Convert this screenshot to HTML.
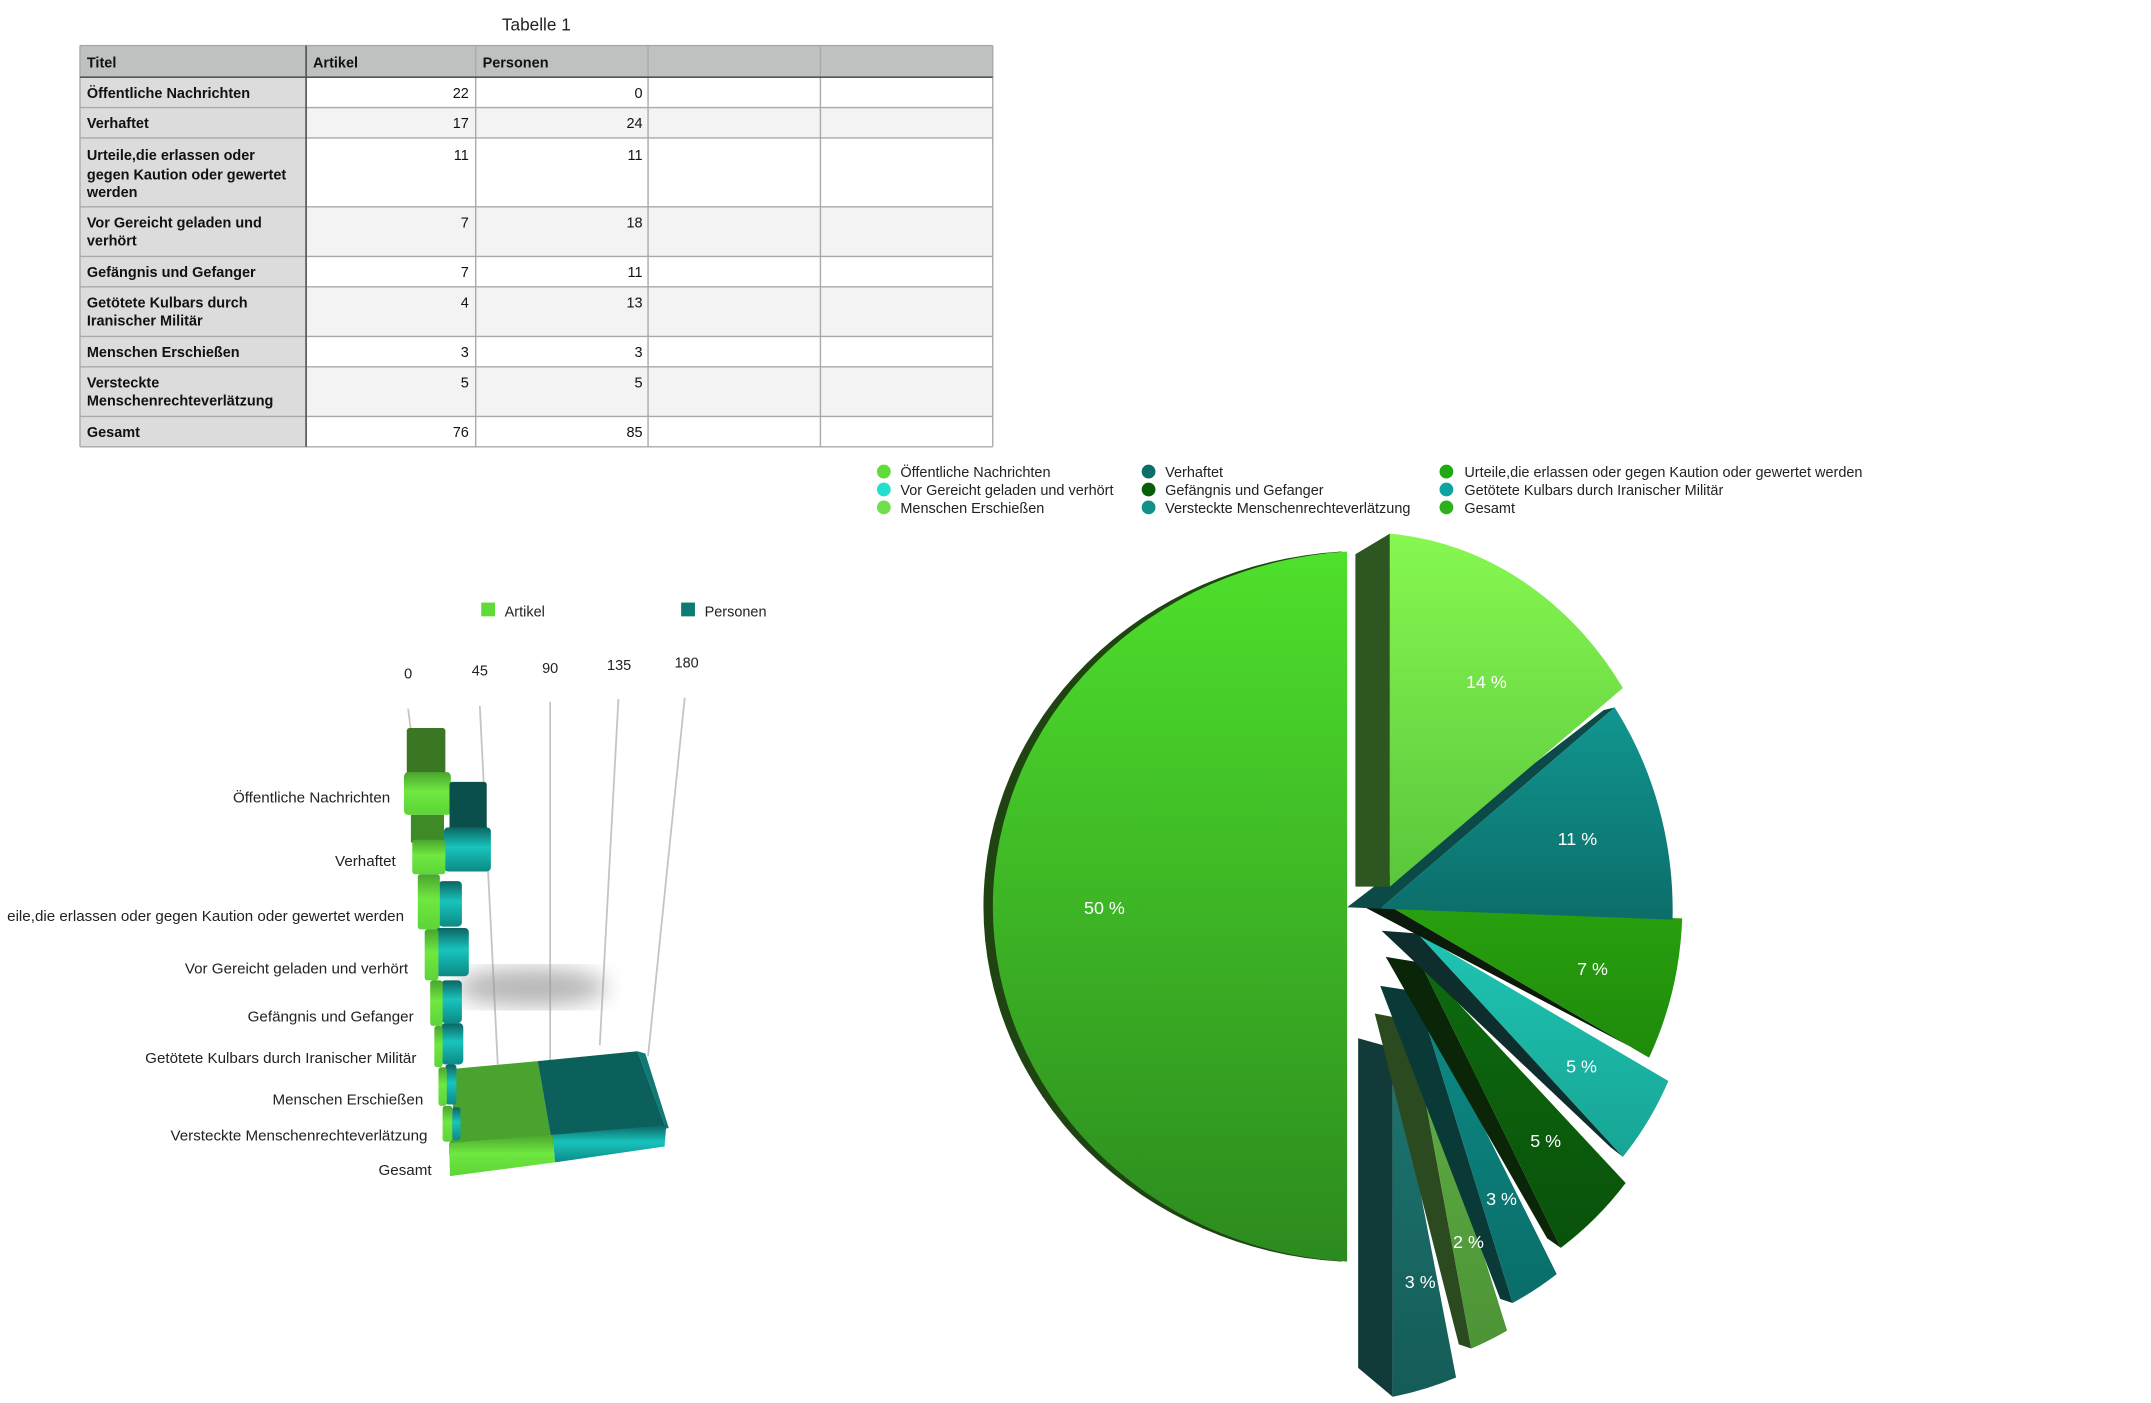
<!DOCTYPE html>
<html><head><meta charset="utf-8"><style>
html,body{margin:0;padding:0;background:#fff;}
svg{display:block;font-family:"Liberation Sans",Arial,sans-serif;}
</style></head><body>
<svg width="2151" height="1403" viewBox="0 0 1560 1017.5" xmlns="http://www.w3.org/2000/svg">
<defs>
<linearGradient id="gBig" x1="0" y1="0" x2="0" y2="1"><stop offset="0" stop-color="#4fe02c"/><stop offset="1" stop-color="#2c8a1e"/></linearGradient>
<linearGradient id="g14" x1="0" y1="0" x2="0" y2="1"><stop offset="0" stop-color="#86f850"/><stop offset="1" stop-color="#5ac63c"/></linearGradient>
<linearGradient id="g11" x1="0" y1="0" x2="0" y2="1"><stop offset="0" stop-color="#129690"/><stop offset="1" stop-color="#0b6d69"/></linearGradient>
<linearGradient id="g7" x1="0" y1="0" x2="0" y2="1"><stop offset="0" stop-color="#28a00e"/><stop offset="1" stop-color="#1f8a0b"/></linearGradient>
<linearGradient id="g5a" x1="0" y1="0" x2="0" y2="1"><stop offset="0" stop-color="#1fc4b2"/><stop offset="1" stop-color="#17a595"/></linearGradient>
<linearGradient id="g5b" x1="0" y1="0" x2="0" y2="1"><stop offset="0" stop-color="#0d6a0e"/><stop offset="1" stop-color="#0a520b"/></linearGradient>
<linearGradient id="g3a" x1="0" y1="0" x2="0" y2="1"><stop offset="0" stop-color="#0d8c86"/><stop offset="1" stop-color="#0a6d69"/></linearGradient>
<linearGradient id="g2" x1="0" y1="0" x2="0" y2="1"><stop offset="0" stop-color="#62b046"/><stop offset="1" stop-color="#4c9336"/></linearGradient>
<linearGradient id="g3b" x1="0" y1="0" x2="0" y2="1"><stop offset="0" stop-color="#1d7570"/><stop offset="1" stop-color="#155c58"/></linearGradient>
<linearGradient id="bg" x1="0" y1="0" x2="0" y2="1"><stop offset="0" stop-color="#4aa52e"/><stop offset="0.45" stop-color="#6fe840"/><stop offset="1" stop-color="#5dd438"/></linearGradient>
<linearGradient id="bt" x1="0" y1="0" x2="0" y2="1"><stop offset="0" stop-color="#0c6461"/><stop offset="0.45" stop-color="#18c4bd"/><stop offset="1" stop-color="#0d8985"/></linearGradient>
<filter id="blur"><feGaussianBlur stdDeviation="8"/></filter>
</defs>

<!-- TABLE -->
<text x="389" y="22" font-size="12.5" text-anchor="middle" fill="#222">Tabelle 1</text>
<rect x="58" y="33" width="662" height="23" fill="#bfc1c0"/>
<rect x="58" y="56" width="164" height="268" fill="#dcdcdc"/>
<rect x="222" y="56" width="498" height="22" fill="#fff"/>
<rect x="222" y="78" width="498" height="22" fill="#f3f3f3"/>
<rect x="222" y="100" width="498" height="50" fill="#fff"/>
<rect x="222" y="150" width="498" height="36" fill="#f3f3f3"/>
<rect x="222" y="186" width="498" height="22" fill="#fff"/>
<rect x="222" y="208" width="498" height="36" fill="#f3f3f3"/>
<rect x="222" y="244" width="498" height="22" fill="#fff"/>
<rect x="222" y="266" width="498" height="36" fill="#f3f3f3"/>
<rect x="222" y="302" width="498" height="22" fill="#fff"/>
<g stroke="#a9a9a9" stroke-width="1">
<line x1="58" y1="33" x2="720" y2="33"/>
<line x1="58" y1="78" x2="720" y2="78"/><line x1="58" y1="100" x2="720" y2="100"/>
<line x1="58" y1="150" x2="720" y2="150"/><line x1="58" y1="186" x2="720" y2="186"/>
<line x1="58" y1="208" x2="720" y2="208"/><line x1="58" y1="244" x2="720" y2="244"/>
<line x1="58" y1="266" x2="720" y2="266"/><line x1="58" y1="302" x2="720" y2="302"/>
<line x1="58" y1="324" x2="720" y2="324"/>
<line x1="58" y1="33" x2="58" y2="324"/><line x1="345" y1="33" x2="345" y2="324"/>
<line x1="470" y1="33" x2="470" y2="324"/><line x1="595" y1="33" x2="595" y2="324"/>
<line x1="720" y1="33" x2="720" y2="324"/>
</g>
<line x1="58" y1="56" x2="720" y2="56" stroke="#555" stroke-width="1.2"/>
<line x1="222" y1="33" x2="222" y2="324" stroke="#555" stroke-width="1.2"/>
<g font-size="10.5" font-weight="bold" fill="#111">
<text x="63" y="49">Titel</text><text x="227" y="49">Artikel</text><text x="350" y="49">Personen</text>
<text x="63" y="71">Öffentliche Nachrichten</text>
<text x="63" y="93">Verhaftet</text>
<text x="63" y="116">Urteile,die erlassen oder</text><text x="63" y="130">gegen Kaution oder gewertet</text><text x="63" y="143">werden</text>
<text x="63" y="165">Vor Gereicht geladen und</text><text x="63" y="178">verhört</text>
<text x="63" y="201">Gefängnis und Gefanger</text>
<text x="63" y="223">Getötete Kulbars durch</text><text x="63" y="236">Iranischer Militär</text>
<text x="63" y="259">Menschen Erschießen</text>
<text x="63" y="281">Versteckte</text><text x="63" y="294">Menschenrechteverlätzung</text>
<text x="63" y="317">Gesamt</text>
</g>
<g font-size="10.5" fill="#111" text-anchor="end">
<text x="340" y="71">22</text><text x="466" y="71">0</text>
<text x="340" y="93">17</text><text x="466" y="93">24</text>
<text x="340" y="116">11</text><text x="466" y="116">11</text>
<text x="340" y="165">7</text><text x="466" y="165">18</text>
<text x="340" y="201">7</text><text x="466" y="201">11</text>
<text x="340" y="223">4</text><text x="466" y="223">13</text>
<text x="340" y="259">3</text><text x="466" y="259">3</text>
<text x="340" y="281">5</text><text x="466" y="281">5</text>
<text x="340" y="317">76</text><text x="466" y="317">85</text>
</g>

<!-- BAR CHART -->
<rect x="349" y="437" width="10" height="10" fill="#5fdc3a"/>
<text x="366" y="447" font-size="10.5" fill="#222">Artikel</text>
<rect x="494" y="437" width="10" height="10" fill="#0b7b74"/>
<text x="511" y="447" font-size="10.5" fill="#222">Personen</text>
<g font-size="10.5" fill="#222" text-anchor="middle">
<text x="296" y="492">0</text><text x="348" y="490">45</text><text x="399" y="488">90</text><text x="449" y="486">135</text><text x="498" y="484">180</text>
</g>
<g stroke="#c4c4c4" stroke-width="1.3" fill="none">
<line x1="296" y1="514" x2="298" y2="530"/>
<line x1="348" y1="512" x2="361" y2="772"/>
<line x1="399" y1="509" x2="399" y2="770"/>
<line x1="448.5" y1="507" x2="435" y2="758"/>
<line x1="496.6" y1="506" x2="470" y2="766"/>
</g>
<ellipse cx="385" cy="716" rx="55" ry="14" fill="#9a9a9a" filter="url(#blur)" opacity="0.7"/>
<g font-size="11" fill="#222" text-anchor="end">
<text x="283" y="582">Öffentliche Nachrichten</text>
<text x="287" y="628">Verhaftet</text>
<text x="293" y="668">eile,die erlassen oder gegen Kaution oder gewertet werden</text>
<text x="296" y="706">Vor Gereicht geladen und verhört</text>
<text x="300" y="741">Gefängnis und Gefanger</text>
<text x="302" y="771">Getötete Kulbars durch Iranischer Militär</text>
<text x="307" y="801">Menschen Erschießen</text>
<text x="310" y="827">Versteckte Menschenrechteverlätzung</text>
<text x="313" y="852">Gesamt</text>
</g>
<g>
<rect x="295" y="528" width="28" height="34" rx="2" fill="#3a7624"/>
<rect x="293" y="560" width="34" height="31" rx="3" fill="url(#bg)"/>
<rect x="326" y="567" width="27" height="35" rx="2" fill="#0b4f4c"/>
<rect x="322" y="600" width="34" height="32" rx="3" fill="url(#bt)"/>
<rect x="298" y="591" width="24" height="20" fill="#3e8a26"/>
<rect x="299" y="609" width="24" height="25" rx="2" fill="url(#bg)"/>
<rect x="318" y="639" width="17" height="33" rx="3" fill="url(#bt)"/>
<rect x="303" y="634" width="16" height="40" rx="2" fill="url(#bg)"/>
<rect x="316" y="673" width="24" height="35" rx="3" fill="url(#bt)"/>
<rect x="308" y="674" width="10" height="37" rx="2" fill="url(#bg)"/>
<rect x="320" y="711" width="15" height="31" rx="3" fill="url(#bt)"/>
<rect x="312" y="711" width="9" height="33" rx="2" fill="url(#bg)"/>
<rect x="320" y="742" width="16" height="30" rx="3" fill="url(#bt)"/>
<rect x="315" y="744" width="6" height="30" rx="2" fill="url(#bg)"/>
<polygon points="330.6,775 390,769.6 400.8,831.5 325.6,837" fill="#4aa32f"/>
<polygon points="390,769.6 462.3,762.4 483.2,818.5 400.8,831.5" fill="#0b605c"/>
<polygon points="462.3,762.4 468,764 485,818 483.2,818.5" fill="#0f7a75"/>
<polygon points="400.8,823 483.2,816 482,831.5 402.5,843" fill="url(#bt)"/>
<polygon points="325.6,829 400.8,823 402.5,843 326.4,853" fill="url(#bg)"/>
<rect x="323" y="772" width="8" height="29" rx="2" fill="url(#bt)"/>
<rect x="318" y="774" width="6" height="28" rx="2" fill="url(#bg)"/>
<rect x="328" y="803" width="6" height="24" rx="2" fill="url(#bt)"/>
<rect x="321" y="802" width="7" height="26" rx="2" fill="url(#bg)"/>
</g>

<!-- PIE LEGEND -->
<g font-size="10.5" fill="#222">
<circle cx="641" cy="342" r="5" fill="#5fdc3a"/><text x="653" y="346">Öffentliche Nachrichten</text>
<circle cx="641" cy="355" r="5" fill="#22e0cf"/><text x="653" y="359">Vor Gereicht geladen und verhört</text>
<circle cx="641" cy="368" r="5" fill="#6ee04c"/><text x="653" y="372">Menschen Erschießen</text>
<circle cx="833" cy="342" r="5" fill="#0b6e6a"/><text x="845" y="346">Verhaftet</text>
<circle cx="833" cy="355" r="5" fill="#0a5e0a"/><text x="845" y="359">Gefängnis und Gefanger</text>
<circle cx="833" cy="368" r="5" fill="#12908a"/><text x="845" y="372">Versteckte Menschenrechteverlätzung</text>
<circle cx="1049" cy="342" r="5" fill="#22a812"/><text x="1062" y="346">Urteile,die erlassen oder gegen Kaution oder gewertet werden</text>
<circle cx="1049" cy="355" r="5" fill="#0ea3a0"/><text x="1062" y="359">Getötete Kulbars durch Iranischer Militär</text>
<circle cx="1049" cy="368" r="5" fill="#2eb01e"/><text x="1062" y="372">Gesamt</text>
</g>

<!-- PIE -->
<path d="M973,400 A277,258 0 0 0 973,915 Z" fill="#1f4412"/>
<path d="M977,400 A274,258 0 0 0 977,915 Z" fill="url(#gBig)"/>
<polygon points="985,753 1010,760 1010,1013 985,992" fill="#123a38"/>
<path d="M1010,760 L1056,999 A240,240 0 0 1 1010,1013 Z" fill="url(#g3b)"/>
<polygon points="997,735 1023,740 1067,978 1058,975" fill="#2c4a1f"/>
<path d="M1023,740 L1093,965 A240,240 0 0 1 1067,978 Z" fill="url(#g2)"/>
<polygon points="1001,715 1027,719 1097,945 1088,942" fill="#0a3a38"/>
<path d="M1027,719 L1129,924 A240,240 0 0 1 1097,945 Z" fill="url(#g3a)"/>
<polygon points="1005,694 1030,698 1132,905 1122,898" fill="#0b2508"/>
<path d="M1030,698 L1179,858 A240,240 0 0 1 1132,905 Z" fill="url(#g5b)"/>
<polygon points="1002,675 1028,677 1177,839 1168,832" fill="#0d2e2d"/>
<path d="M1028,677 L1210,784 A240,240 0 0 1 1177,839 Z" fill="url(#g5a)"/>
<polygon points="986,656 1011,659 1196,767 1188,762" fill="#0b1a0a"/>
<path d="M1011,659 L1220,666 A235,250 0 0 1 1196,767 Z" fill="url(#g7)"/>
<polygon points="977,658 1001,659 1171,513 1163,515" fill="#0c4a48"/>
<path d="M1001,659 L1171,513 A230,255 0 0 1 1213,667 Z" fill="url(#g11)"/>
<polygon points="983,402 1008,387 1008,643 983,643" fill="#2d5620"/>
<path d="M1008,643 L1008,387 A225,255 0 0 1 1177,499 Z" fill="url(#g14)"/>

<g font-size="13" fill="#fff" text-anchor="middle">
<text x="801" y="663">50 %</text>
<text x="1078" y="499">14 %</text>
<text x="1144" y="613">11 %</text>
<text x="1155" y="707">7 %</text>
<text x="1147" y="778">5 %</text>
<text x="1121" y="832">5 %</text>
<text x="1089" y="874">3 %</text>
<text x="1065" y="905">2 %</text>
<text x="1030" y="934">3 %</text>
</g>
</svg>
</body></html>
